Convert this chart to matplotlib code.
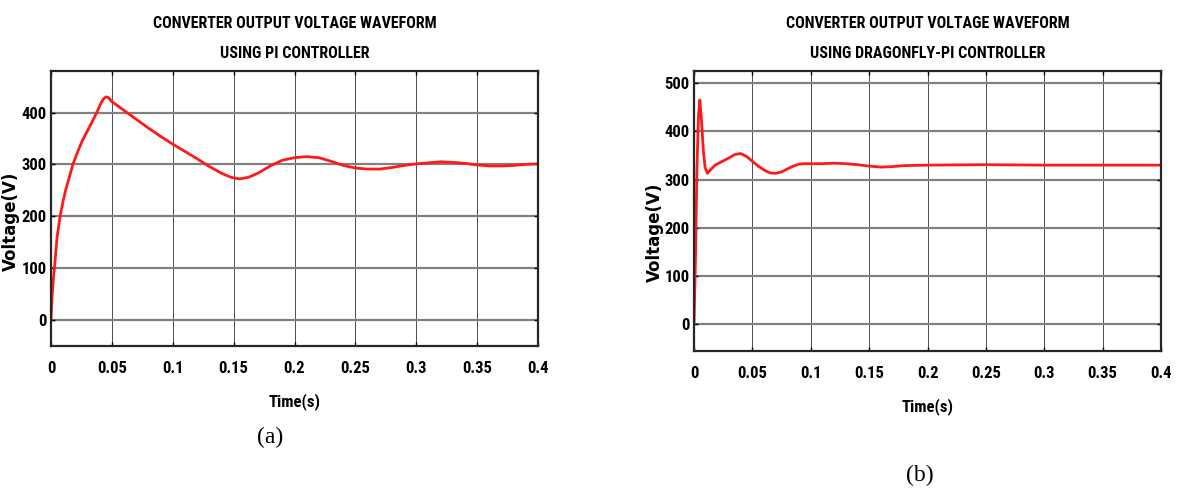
import matplotlib
matplotlib.use("Agg")
import matplotlib.pyplot as plt

# PI controller response
t_pi = [0, 0.001, 0.002, 0.003, 0.005, 0.0075, 0.01, 0.012, 0.015, 0.018, 0.022,
        0.026, 0.03, 0.034, 0.038, 0.041, 0.043, 0.045, 0.047, 0.05, 0.06,
        0.07, 0.08, 0.09, 0.1, 0.11, 0.12, 0.13, 0.14, 0.148, 0.155, 0.162, 0.17,
        0.18, 0.19, 0.2, 0.21, 0.22, 0.23, 0.24, 0.25, 0.26, 0.27, 0.28, 0.29, 0.3,
        0.31, 0.32, 0.33, 0.34, 0.35, 0.36, 0.37, 0.38, 0.39, 0.4]
v_pi = [0, 50, 80, 105, 160, 200, 230, 250, 275, 300, 325,
        347, 365, 383, 402, 418, 426, 430, 429, 421, 404,
        387, 370, 354, 339, 325, 311, 296, 283, 275, 272, 275, 283,
        297, 308, 313, 315, 313, 306, 298, 293, 291, 291, 294, 298, 301,
        303, 305, 304, 302, 299, 297, 297, 298, 300, 301]

# Dragonfly-PI controller response
t_df = [0, 0.0012, 0.0025, 0.0038, 0.005, 0.0065, 0.008, 0.0095, 0.0115, 0.014,
        0.018, 0.022, 0.026, 0.03, 0.035, 0.04, 0.045, 0.05, 0.055, 0.06, 0.065,
        0.07, 0.075, 0.08, 0.085, 0.09, 0.095, 0.11, 0.12, 0.13, 0.14, 0.15, 0.16,
        0.17, 0.18, 0.2, 0.25, 0.3, 0.35, 0.4]
v_df = [0, 130, 320, 430, 465, 420, 360, 325, 313, 320,
        330, 335, 340, 345, 352, 354, 348, 338, 328, 320, 314,
        313, 316, 322, 328, 332, 333, 333, 334, 333, 331, 328, 326,
        327, 329, 330, 331, 330, 330, 330]

x_ticks = [0, 0.05, 0.1, 0.15, 0.2, 0.25, 0.3, 0.35, 0.4]
x_tick_labels = ["0", "0.05", "0.1", "0.15", "0.2", "0.25", "0.3", "0.35", "0.4"]

# Narrow bold face like the original MATLAB export
NARROW = ['Roboto Condensed', 'PT Sans Narrow', 'Liberation Sans', 'DejaVu Sans']
plt.rcParams['font.family'] = NARROW
plt.rcParams['font.weight'] = 'bold'

W, H = 1179, 488


def style_axes(ax, title_lines, yticks, ylim, ylabel_xy):
    ax.set_xlim(0, 0.4)
    ax.set_ylim(*ylim)
    ax.set_xticks(x_ticks)
    ax.set_xticklabels(x_tick_labels)
    ax.set_yticks(yticks)
    ax.tick_params(direction='in', length=3, labelsize=12, top=True, right=True, width=1)
    ax.tick_params(axis='x', pad=11)
    ax.tick_params(axis='y', pad=3)
    for lbl in ax.get_xticklabels() + ax.get_yticklabels():
        lbl.set_fontweight('bold')
    ax.grid(True, axis='x', color='0.3', linewidth=0.7)
    ax.grid(True, axis='y', color='0.5', linewidth=1.6)
    ax.set_axisbelow(True)
    for sp in ax.spines.values():
        sp.set_linewidth(1.6)
        sp.set_color('0.15')
    ax.set_xlabel("Time(s)", fontsize=12, fontweight='bold', labelpad=12)
    ax.set_ylabel("Voltage(V)", fontsize=12, fontweight='bold',
                  family=['DejaVu Sans'])
    ax.yaxis.set_label_coords(*ylabel_xy)

    box = ax.get_position()
    xc = (box.x0 + box.x1) / 2
    fig.text(xc, 1 - 23 / H, title_lines[0], fontsize=11.5, fontweight='bold',
             ha='center', va='center')
    fig.text(xc, 1 - 53 / H, title_lines[1], fontsize=11.5, fontweight='bold',
             ha='center', va='center')


fig = plt.figure(figsize=(W / 100, H / 100), dpi=100)

ax1 = fig.add_axes([51 / W, 1 - 346 / H, 487 / W, 275 / H])
ax1.plot(t_pi, v_pi, color='#ff1a1a', linewidth=2)
style_axes(ax1, ["CONVERTER OUTPUT VOLTAGE WAVEFORM", "USING PI CONTROLLER"],
           [0, 100, 200, 300, 400], (-50, 480), (-0.064, 0.455))

ax2 = fig.add_axes([694 / W, 1 - 351 / H, 467 / W, 280 / H])
ax2.plot(t_df, v_df, color='#ff1a1a', linewidth=2)
style_axes(ax2, ["CONVERTER OUTPUT VOLTAGE WAVEFORM", "USING DRAGONFLY-PI CONTROLLER"],
           [0, 100, 200, 300, 400, 500], (-55, 525), (-0.064, 0.425))

fig.text(270 / W, 1 - 437 / H, "(a)", family='Liberation Serif',
         fontweight='normal', fontsize=17, ha='center', va='center')
fig.text(920 / W, 1 - 475 / H, "(b)", family='Liberation Serif',
         fontweight='normal', fontsize=17, ha='center', va='center')

fig.savefig("out.png", dpi=100)
